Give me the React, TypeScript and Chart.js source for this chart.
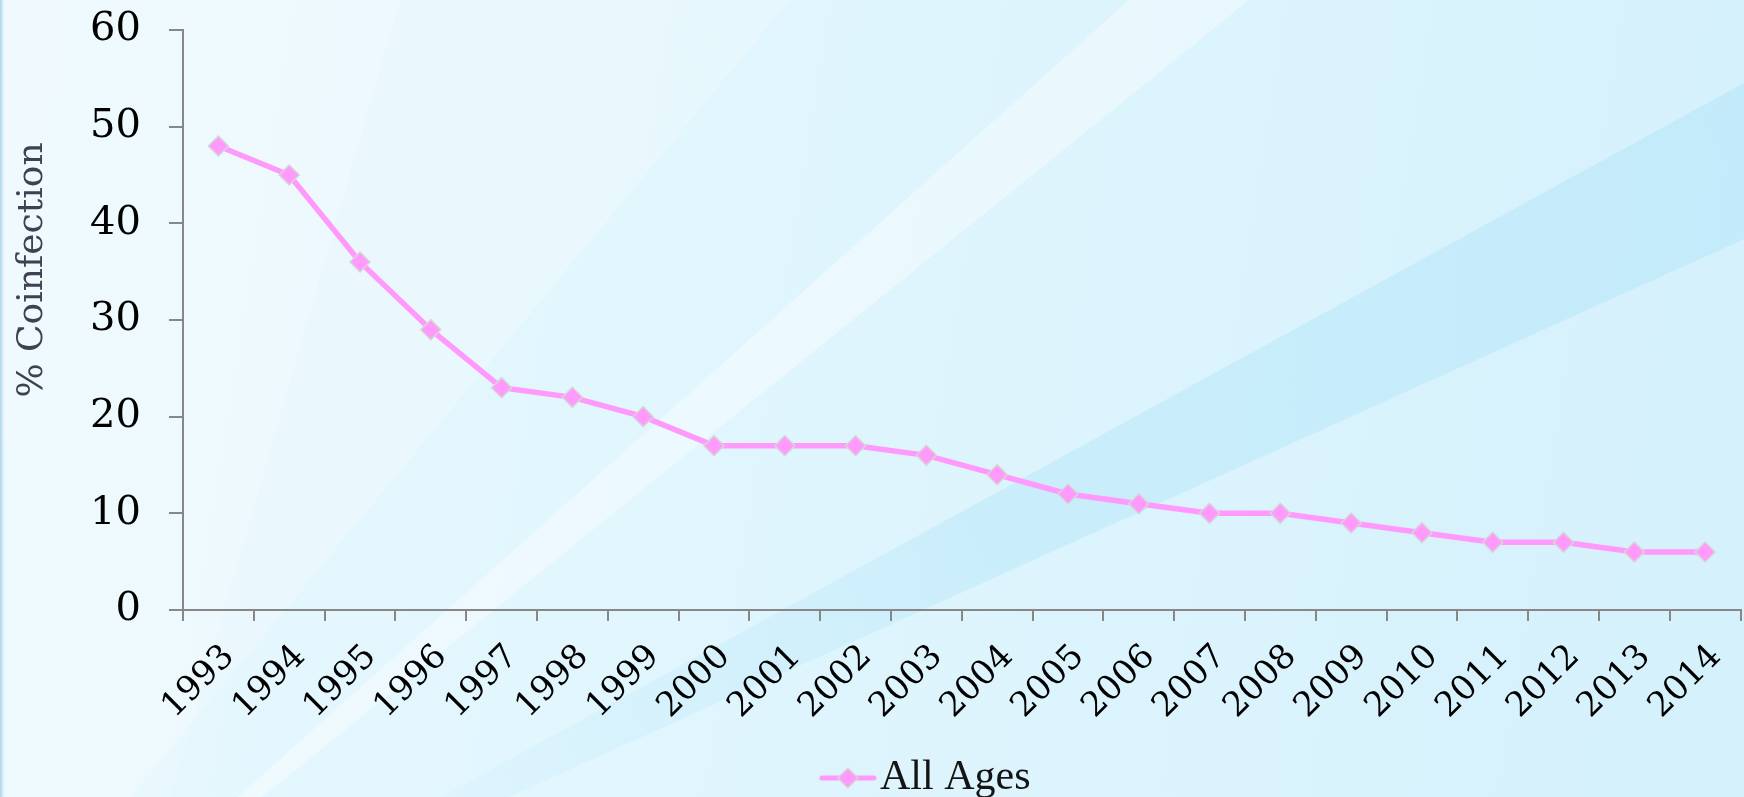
import React, { useEffect, useRef } from 'react';
import { Chart, registerables } from 'chart.js';

Chart.register(...registerables);

// Percent of cases with coinfection, per reporting year
const years = [
  '1993', '1994', '1995', '1996', '1997', '1998', '1999', '2000', '2001', '2002', '2003',
  '2004', '2005', '2006', '2007', '2008', '2009', '2010', '2011', '2012', '2013', '2014',
];
const allAges = [48, 45, 36, 29, 23, 22, 20, 17, 17, 17, 16, 14, 12, 11, 10, 10, 9, 8, 7, 7, 6, 6];
const seriesLabel = 'All Ages';
const yAxisTitle = '% Coinfection';
const yMin = 0;
const yMax = 60;
const yStep = 10;

// Canvas and plot geometry
const CANVAS_W = 1752;
const CANVAS_H = 797;
const PLOT_LEFT = 183;
const PLOT_TOP = 30;
const LEGEND_FONT = 42;
const LEGEND_PAD = 1;
const X_AXIS_H = 146;

const PINK = '#ff99fb';
const AXIS = '#878787';

type Pt = [number, number];

function fillPoly(ctx: CanvasRenderingContext2D, pts: Pt[], fill: string | CanvasGradient) {
  ctx.beginPath();
  ctx.moveTo(pts[0][0], pts[0][1]);
  for (let i = 1; i < pts.length; i++) ctx.lineTo(pts[i][0], pts[i][1]);
  ctx.closePath();
  ctx.fillStyle = fill;
  ctx.fill();
}

// Soft blue slide backdrop with diagonal light streaks
const backdrop = {
  id: 'backdrop',
  beforeDraw(chart: any) {
    const { ctx, width, height } = chart;
    ctx.save();
    const base = ctx.createLinearGradient(0, 0, width, height * 0.35);
    base.addColorStop(0, '#e9f8fe');
    base.addColorStop(0.5, '#dff5fd');
    base.addColorStop(1, '#d5f1fc');
    ctx.fillStyle = base;
    ctx.fillRect(0, 0, width, height);

    fillPoly(ctx, [[0, 0], [790, 0], [130, 797], [0, 797]], 'rgba(255,255,255,0.22)');
    fillPoly(ctx, [[0, 0], [400, 0], [170, 797], [0, 797]], 'rgba(255,255,255,0.15)');
    fillPoly(ctx, [[1129, 0], [1249, 0], [262, 797], [238, 797]], 'rgba(255,255,255,0.38)');

    const bandFade = ctx.createLinearGradient(1744, 100, 450, 797);
    bandFade.addColorStop(0, 'rgba(160,222,247,0.34)');
    bandFade.addColorStop(0.6, 'rgba(160,222,247,0.3)');
    bandFade.addColorStop(1, 'rgba(160,222,247,0.08)');
    fillPoly(ctx, [[1764, 72], [1764, 230], [509, 797], [441, 797]], bandFade);

    const edge = ctx.createLinearGradient(0, 0, 5, 0);
    edge.addColorStop(0, '#a6d1ec');
    edge.addColorStop(1, 'rgba(200,232,248,0)');
    ctx.fillStyle = edge;
    ctx.fillRect(0, 0, 5, height);
    ctx.restore();
  },
};

// Vertical axis caption placed beside the tick labels
const axisCaption = {
  id: 'axisCaption',
  afterDraw(chart: any) {
    const { ctx } = chart;
    ctx.save();
    ctx.translate(33, 270);
    ctx.rotate(-Math.PI / 2);
    ctx.font = '36px "DejaVu Serif"';
    ctx.fillStyle = '#3f4152';
    ctx.textAlign = 'center';
    ctx.textBaseline = 'middle';
    ctx.fillText(yAxisTitle, 0, 0);
    ctx.restore();
  },
};

// Legend swatch: short line with a diamond, right-aligned in a wider transparent box
function makeSwatch(imgW: number): HTMLCanvasElement {
  const c = document.createElement('canvas');
  c.width = imgW;
  c.height = 24;
  const g = c.getContext('2d')!;
  const x0 = imgW - 58;
  g.strokeStyle = PINK;
  g.lineWidth = 5;
  g.lineCap = 'round';
  g.beginPath();
  g.moveTo(x0 + 3, 12);
  g.lineTo(imgW - 3, 12);
  g.stroke();
  const cx = x0 + 29;
  g.beginPath();
  g.moveTo(cx, 2);
  g.lineTo(cx + 10, 12);
  g.lineTo(cx, 22);
  g.lineTo(cx - 10, 12);
  g.closePath();
  g.fillStyle = PINK;
  g.fill();
  g.strokeStyle = '#d6d6d6';
  g.lineWidth = 1.5;
  g.stroke();
  return c;
}

export default function App() {
  const canvasRef = useRef<HTMLCanvasElement | null>(null);

  useEffect(() => {
    const canvas = canvasRef.current;
    if (!canvas) return;

    const legendFont = `${LEGEND_FONT}px "Liberation Serif"`;
    const m = document.createElement('canvas').getContext('2d')!;
    m.font = legendFont;
    const textW = m.measureText(seriesLabel).width;
    const gap = LEGEND_FONT / 2;
    const center = CANVAS_W / 2;
    const boxW = 2 * (880 - center) + textW - gap;
    const imgW = Math.round(boxW + 2 * gap - 6);
    const swatch = makeSwatch(imgW);

    const chart = new Chart(canvas, {
      type: 'line',
      data: {
        labels: years,
        datasets: [
          {
            label: seriesLabel,
            data: allAges,
            borderColor: PINK,
            backgroundColor: PINK,
            borderWidth: 5.5,
            tension: 0,
            pointStyle: 'rectRot',
            pointRadius: 10,
            pointHoverRadius: 10,
            pointBackgroundColor: PINK,
            pointBorderColor: '#d6d6d6',
            pointBorderWidth: 1.5,
          },
        ],
      },
      options: {
        responsive: false,
        animation: false,
        layout: { padding: { top: PLOT_TOP, left: 0, right: 0, bottom: -12 } },
        plugins: {
          tooltip: { enabled: false },
          legend: {
            position: 'bottom',
            labels: {
              usePointStyle: true,
              pointStyle: swatch as any,
              pointStyleWidth: boxW,
              padding: LEGEND_PAD,
              color: '#141414',
              font: { family: '"Liberation Serif"', size: LEGEND_FONT, lineHeight: 1 },
            },
          },
        },
        scales: {
          x: {
            offset: true,
            grid: {
              offset: true,
              drawOnChartArea: false,
              color: AXIS,
              lineWidth: 2,
              tickLength: 11,
            },
            border: { color: AXIS, width: 2 },
            ticks: {
              autoSkip: false,
              minRotation: 45,
              maxRotation: 45,
              padding: 16,
              labelOffset: 11,
              color: '#000',
              font: { family: '"DejaVu Serif"', size: 34 },
            },
            afterFit(scale: any) {
              scale.height = X_AXIS_H;
              scale.paddingLeft = 0;
              scale.paddingRight = 0;
            },
          },
          y: {
            min: yMin,
            max: yMax,
            grid: {
              drawOnChartArea: false,
              color: AXIS,
              lineWidth: 2,
              tickLength: 14,
            },
            border: { color: AXIS, width: 2 },
            ticks: {
              stepSize: yStep,
              padding: 28,
              color: '#000',
              font: { family: '"DejaVu Serif"', size: 40 },
            },
            afterFit(scale: any) {
              scale.width = PLOT_LEFT;
              scale.paddingTop = 0;
              scale.paddingBottom = 0;
            },
          },
        },
      },
      plugins: [backdrop, axisCaption],
    });

    return () => chart.destroy();
  }, []);

  return (
    <div
      style={{
        position: 'absolute',
        left: 0,
        top: 0,
        width: 1744,
        height: CANVAS_H,
        overflow: 'hidden',
      }}
    >
      <canvas
        ref={canvasRef}
        width={CANVAS_W}
        height={CANVAS_H}
        style={{ display: 'block', width: CANVAS_W, height: CANVAS_H }}
      />
    </div>
  );
}
